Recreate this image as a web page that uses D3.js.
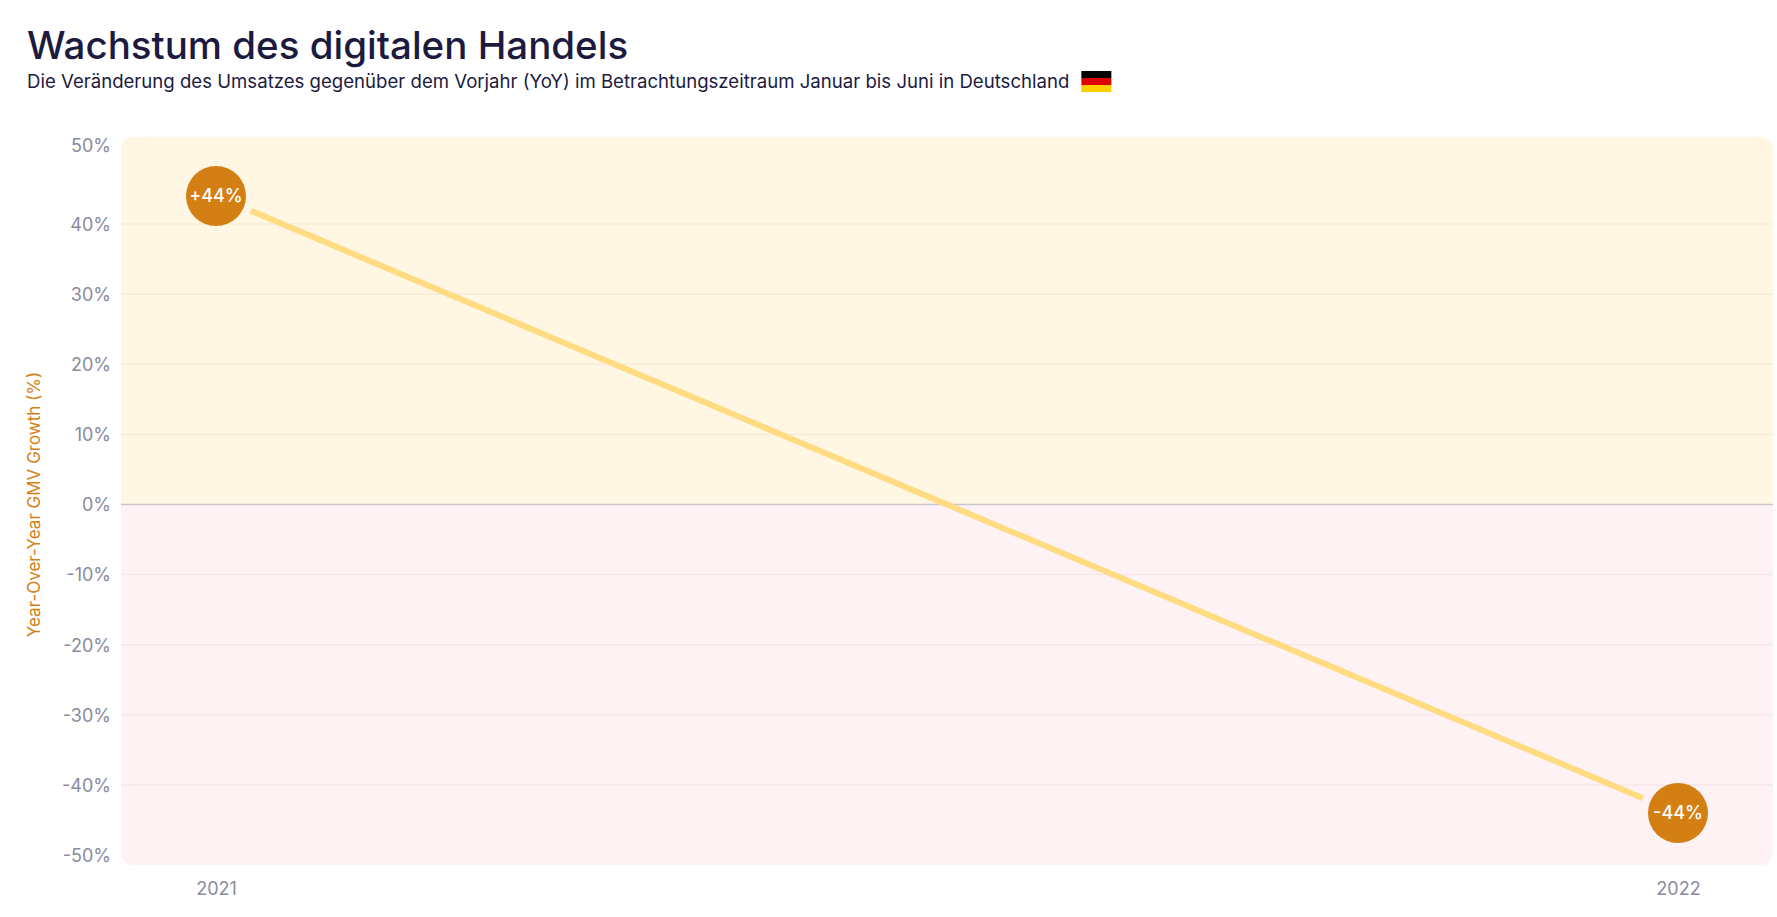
<!DOCTYPE html>
<html lang="de">
<head>
<meta charset="UTF-8" />
<script src="https://cdn.jsdelivr.net/npm/d3@7"></script>
<style>
  body { margin: 0; padding: 0; background: #fff; font-family: Inter, "Noto Sans", sans-serif; }
</style>
</head>
<body>
<svg width="1777" height="917"></svg>
<script>
  var years = ['2021', '2022']
  var growth = [44, -44]
  var labels = ['+44%', '-44%']
  var yTicks = [50, 40, 30, 20, 10, 0, -10, -20, -30, -40, -50]

  var svg = d3.select('svg')
  var plot = { left: 121, right: 1773, top: 137, bottom: 865 }

  svg.append('text').attr('x', 27).attr('y', 59)
    .attr('font-size', 38.5).attr('font-weight', 500).attr('fill', '#1c1b3f')
    .text('Wachstum des digitalen Handels')
  var sub = svg.append('text').attr('x', 27).attr('y', 88)
    .attr('font-size', 18.6).attr('fill', '#1c1b3f')
    .text('Die Veränderung des Umsatzes gegenüber dem Vorjahr (YoY) im Betrachtungszeitraum Januar bis Juni in Deutschland')
  var sw = sub.node().getComputedTextLength()
  var flag = svg.append('g').attr('transform', `translate(${27 + sw + 12}, 71)`)
  ;['#000', '#dd0000', '#ffce00'].forEach((c, i) => {
    flag.append('rect').attr('y', i * 7).attr('width', 30).attr('height', 7).attr('fill', c)
  })

  var y = d3.scaleLinear().domain([-50, 50]).range([855, 154])
  var x = d3.scalePoint().domain(years).range([216, 1678])

  // background bands
  var clipId = 'plotclip'
  svg.append('clipPath').attr('id', clipId).append('rect')
    .attr('x', plot.left).attr('y', plot.top)
    .attr('width', plot.right - plot.left).attr('height', plot.bottom - plot.top).attr('rx', 12)
  var bg = svg.append('g').attr('clip-path', `url(#${clipId})`)
  bg.append('rect').attr('x', plot.left).attr('y', plot.top)
    .attr('width', plot.right - plot.left).attr('height', y(0) - plot.top).attr('fill', '#fff6e3')
  bg.append('rect').attr('x', plot.left).attr('y', y(0))
    .attr('width', plot.right - plot.left).attr('height', plot.bottom - y(0)).attr('fill', '#fff2f4')

  // grid
  var grid = svg.append('g')
  grid.selectAll('line').data(yTicks.filter(d => Math.abs(d) !== 50)).enter().append('line')
    .attr('x1', plot.left).attr('x2', plot.right)
    .attr('y1', d => y(d)).attr('y2', d => y(d))
    .attr('stroke', d => d === 0 ? '#c9c5cf' : (d > 0 ? '#f8ecd6' : '#f8e6ea'))
    .attr('stroke-width', 1.5)

  // y axis
  var yAxis = d3.axisLeft(y).tickValues(yTicks).tickSize(0).tickPadding(0).tickFormat(d => d + '%')
  var ya = svg.append('g').attr('transform', 'translate(111,0)').call(yAxis)
  ya.select('.domain').remove()
  ya.selectAll('text').attr('font-size', 18).attr('fill', '#8a8aa0').attr('font-family', 'Inter, sans-serif')
    .attr('dy', d => d === 50 ? '-0.15em' : '0.35em')

  svg.append('text').attr('transform', `translate(40, ${y(0)}) rotate(-90)`)
    .attr('text-anchor', 'middle').attr('font-size', 17).attr('fill', '#d47f14')
    .text('Year-Over-Year GMV Growth (%)')

  // x axis
  var xAxis = d3.axisBottom(x).tickSize(0).tickPadding(0)
  var xa = svg.append('g').attr('transform', 'translate(0,882)').call(xAxis)
  xa.select('.domain').remove()
  xa.selectAll('text').attr('font-size', 18).attr('fill', '#8a8aa0').attr('font-family', 'Inter, sans-serif')

  // line, shortened to leave a gap to the circles
  var r = 30, gap = 8
  var x0 = x(years[0]), y0 = y(growth[0]), x1 = x(years[1]), y1 = y(growth[1])
  var len = Math.hypot(x1 - x0, y1 - y0), ux = (x1 - x0) / len, uy = (y1 - y0) / len
  svg.append('line')
    .attr('x1', x0 + ux * (r + gap)).attr('y1', y0 + uy * (r + gap))
    .attr('x2', x1 - ux * (r + gap)).attr('y2', y1 - uy * (r + gap))
    .attr('stroke', '#ffdb82').attr('stroke-width', 6)

  var pts = svg.selectAll('.pt').data(growth).enter().append('g')
    .attr('transform', (d, i) => `translate(${x(years[i])}, ${y(d)})`)
  pts.append('circle').attr('r', r).attr('fill', '#d47f14')
  pts.append('text').text((d, i) => labels[i]).attr('text-anchor', 'middle').attr('dy', '0.35em')
    .attr('fill', '#fff').attr('font-size', 18).attr('font-weight', 500)
</script>
</body>
</html>
